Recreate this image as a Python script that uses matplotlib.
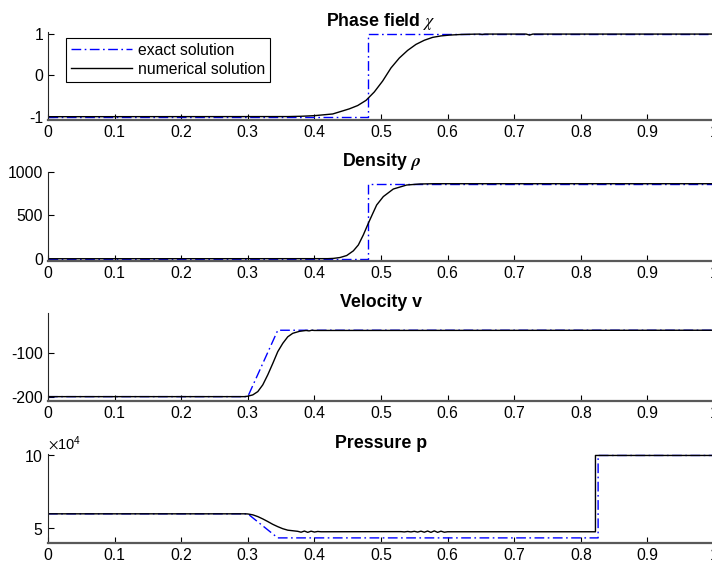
import matplotlib
matplotlib.use("Agg")
import matplotlib.pyplot as plt
from matplotlib.ticker import ScalarFormatter

plt.rcParams['font.family'] = ['Liberation Sans', 'DejaVu Sans']
plt.rcParams['mathtext.fontset'] = 'stix'
plt.rcParams['axes.unicode_minus'] = False

# ---------------- data ----------------
# Phase field chi
phase_exact_x = [0.0, 0.48, 0.48, 1.0]
phase_exact_y = [-1.0, -1.0, 1.0, 1.0]
phase_num_x = [0.0, 0.36, 0.38, 0.40, 0.4275, 0.4525, 0.465, 0.4775, 0.49, 0.5025,
               0.515, 0.5275, 0.54, 0.5525, 0.565, 0.5775, 0.59, 0.6025, 0.62, 0.64,
               0.648, 0.652, 0.656, 0.718, 0.723, 0.728, 1.0]
phase_num_y = [-1.0, -0.997, -0.99, -0.975, -0.934, -0.81, -0.73, -0.605, -0.40, -0.136,
               0.18, 0.42, 0.605, 0.75, 0.85, 0.92, 0.955, 0.975, 0.99, 0.998,
               1.0, 0.99, 1.0, 1.0, 0.975, 1.0, 1.0]

# Density rho
dens_exact_x = [0.0, 0.481, 0.481, 1.0]
dens_exact_y = [1.0, 1.0, 865.0, 865.0]
dens_num_x = [0.0, 0.42, 0.4285, 0.4385, 0.4485, 0.4585, 0.466, 0.4735, 0.481, 0.4875,
              0.4935, 0.5035, 0.5185, 0.5385, 0.5585, 0.58, 1.0]
dens_num_y = [1.0, 2.0, 5.0, 15.0, 38.0, 92.0, 160.0, 276.0, 410.0, 520.0,
              620.0, 717.0, 804.0, 850.0, 862.0, 865.0, 865.0]

# Velocity v
vel_exact_x = [0.0, 0.30, 0.345, 1.0]
vel_exact_y = [-200.0, -200.0, -48.0, -48.0]
vel_num_x = [0.0, 0.295, 0.30, 0.3075, 0.315, 0.3225, 0.33, 0.3375, 0.345, 0.3525,
             0.36, 0.3675, 0.3775, 0.3875, 0.392, 0.396, 0.40, 1.0]
vel_num_y = [-200.0, -200.0, -199.0, -196.0, -188.5, -173.0, -150.0, -124.0, -97.0, -78.0,
             -63.0, -55.0, -50.5, -48.5, -49.5, -48.0, -48.5, -48.0]

# Pressure p
pres_exact_x = [0.0, 0.30, 0.345, 0.826, 0.826, 1.0]
pres_exact_y = [6.0e4, 6.0e4, 4.35e4, 4.35e4, 1.0e5, 1.0e5]
pres_num_x = [0.0, 0.295, 0.30, 0.3075, 0.315, 0.3225, 0.33, 0.3375, 0.345, 0.3525,
              0.36, 0.3675, 0.375, 0.38, 0.385, 0.39, 0.395, 0.40, 0.405, 0.41,
              0.53, 0.535, 0.54, 0.545, 0.55, 0.555, 0.56, 0.565, 0.57, 0.575,
              0.58, 0.585, 0.59, 0.595, 0.60, 0.822, 0.822, 1.0]
pres_num_y = [6.0e4, 6.0e4, 5.99e4, 5.93e4, 5.81e4, 5.65e4, 5.47e4, 5.28e4, 5.12e4, 4.98e4,
              4.88e4, 4.84e4, 4.80e4, 4.74e4, 4.82e4, 4.73e4, 4.81e4, 4.75e4, 4.79e4, 4.77e4,
              4.78e4, 4.76e4, 4.79e4, 4.76e4, 4.80e4, 4.75e4, 4.81e4, 4.74e4, 4.82e4, 4.73e4,
              4.83e4, 4.73e4, 4.81e4, 4.74e4, 4.77e4, 4.77e4, 1.0e5, 1.0e5]

titles = ["Phase field $\\chi$", "Density $\\boldsymbol{\\rho}$", "Velocity v", "Pressure p"]
x_ticks = [0, 0.1, 0.2, 0.3, 0.4, 0.5, 0.6, 0.7, 0.8, 0.9, 1.0]
x_ticklabels = ["0", "0.1", "0.2", "0.3", "0.4", "0.5", "0.6", "0.7", "0.8", "0.9", "1"]
y_ticks = [[-1, 0, 1], [0, 500, 1000], [-200, -100], [5e4, 10e4]]
y_lims = [(-1.08, 1.05), (-25, 1000), (-210, -8.5), (4.0e4, 1.01e5)]

# ---------------- figure ----------------
W, H = 712, 567
fig = plt.figure(figsize=(W / 100, H / 100), dpi=100)

left = 48 / W
width = 666 / W
bottoms_px = [120, 261, 401, 543]
tops_px = [32, 172, 313, 454]

exact_style = dict(color=(0, 0, 1), lw=1.0, dashes=[7, 2.5, 1.2, 2.5])
num_style = dict(color='black', lw=1.0)

data = [
    (phase_exact_x, phase_exact_y, phase_num_x, phase_num_y),
    (dens_exact_x, dens_exact_y, dens_num_x, dens_num_y),
    (vel_exact_x, vel_exact_y, vel_num_x, vel_num_y),
    (pres_exact_x, pres_exact_y, pres_num_x, pres_num_y),
]

for i in range(4):
    b = (H - bottoms_px[i]) / H
    h = (bottoms_px[i] - tops_px[i]) / H
    ax = fig.add_axes([left, b, width, h])
    ex, ey, nx, ny = data[i]
    ax.plot(ex, ey, label="exact solution", **exact_style)
    ax.plot(nx, ny, label="numerical solution", **num_style)
    ax.set_xlim(0, 1)
    ax.set_ylim(*y_lims[i])
    ax.set_xticks(x_ticks)
    ax.set_xticklabels(x_ticklabels)
    ax.set_yticks(y_ticks[i])
    ax.spines['top'].set_visible(False)
    ax.spines['right'].set_visible(False)
    ax.spines['left'].set_color('0.15')
    ax.spines['left'].set_linewidth(0.8)
    ax.spines['bottom'].set_color('0.35')
    ax.spines['bottom'].set_linewidth(1.6)
    ax.tick_params(direction='in', length=4, width=0.8, labelsize=11.3, pad=3.5,
                   colors='black')
    ax.set_title(titles[i], fontsize=12.8, fontweight='bold', pad=4)
    if i == 3:
        fmt = ScalarFormatter(useMathText=True)
        fmt.set_powerlimits((4, 4))
        ax.yaxis.set_major_formatter(fmt)
        ax.yaxis.get_offset_text().set_fontsize(10.5)
    if i == 0:
        leg = ax.legend(loc='upper left', bbox_to_anchor=(0.027, 0.93),
                        borderaxespad=0, fontsize=11.3, handlelength=3.9,
                        frameon=True, fancybox=False, framealpha=1,
                        edgecolor='black', borderpad=0.3, labelspacing=0.25,
                        handletextpad=0.4)
        leg.get_frame().set_linewidth(0.8)

fig.savefig("out.png", dpi=100)
